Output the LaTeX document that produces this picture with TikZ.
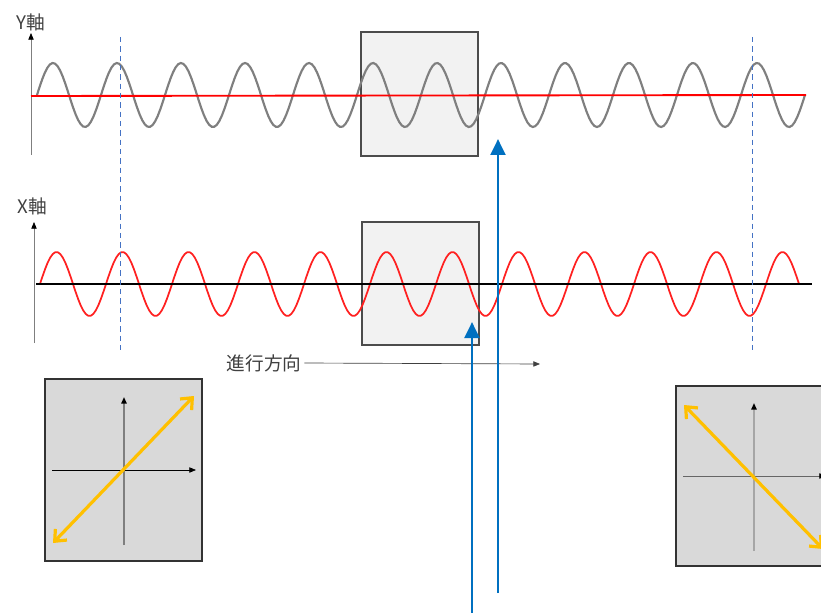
\documentclass[tikz,border=0pt]{standalone}
\usepackage{fontspec}
\setmainfont{Noto Sans CJK JP}
\usetikzlibrary{arrows.meta}

\definecolor{wavegray}{HTML}{7F7F7F}
\definecolor{wavered}{HTML}{FF2020}
\definecolor{beamblue}{HTML}{0070C0}
\definecolor{guideblue}{HTML}{4472C4}
\definecolor{polyellow}{HTML}{FFC000}
\definecolor{labelgray}{HTML}{404040}

\tikzset{
  lab/.style={text=labelgray,font=\fontsize{14}{16}\selectfont,inner sep=2pt},
  zoombox/.style={draw=black!70,fill=black!5,line width=0.9pt},
  planebox/.style={draw=black!80,fill=black!15,line width=0.9pt},
  guide/.style={guideblue,dashed,dash pattern=on 4pt off 3pt,line width=0.7pt},
  beam/.style={beamblue,line width=2.2pt,-{Triangle[length=12pt,width=11pt]}},
  pol/.style={polyellow,line width=2.4pt,{Straight Barb[length=7pt,width=12pt]}-{Straight Barb[length=7pt,width=12pt]}},
  axis/.style={-{Triangle[length=5pt,width=4pt,color=black]}},
}

\begin{document}
\begin{tikzpicture}[x=0.75pt,y=-0.75pt,line width=0.6pt,>={Triangle[length=5pt,width=4pt]}]
  \clip (0,0) rectangle (821,613);

  % Y component
  \node[lab] (ylab) at (31,22) {Y軸};
  \coordinate (yb) at (31,155);
  \coordinate (yt) at (31,33);
  \draw[axis,wavegray] (yb) -- (yt);
  \draw[zoombox] (361,32) rectangle (478,156);
  \draw[wavegray,line width=1.6pt] plot[domain=37:805,samples=300]
    (\x,{95-32*sin((\x-37)/64*360)});
  \coordinate (y0) at (31,96);
  \coordinate (y1) at (806,95);
  \draw[red,line width=1.4pt] (y0) -- (y1);

  % X component
  \node[lab] (xlab) at (32,206) {X軸};
  \coordinate (xb) at (34,343);
  \coordinate (xt) at (34,222);
  \draw[axis,wavegray] (xb) -- (xt);
  \draw[zoombox] (362,222) rectangle (479,345);
  \draw[wavered,line width=1.3pt] plot[domain=40:799,samples=300]
    (\x,{284-32*sin((\x-40)/66*360)});
  \coordinate (x0) at (36,284);
  \coordinate (x1) at (812,284);
  \draw[black,line width=1.3pt] (x0) -- (x1);

  % guides
  \coordinate (ga) at (120,37);
  \coordinate (gb) at (120,353);
  \coordinate (gc) at (752,37);
  \coordinate (gd) at (752,353);
  \draw[guide] (ga) -- (gb);
  \draw[guide] (gc) -- (gd);

  % direction
  \node[lab] (dirlab) at (264,363) {進行方向};
  \coordinate (dirend) at (540,364);
  \draw[->,black!75,line width=0.5pt] (dirlab.east) -- (dirend);

  % observers
  \coordinate (ba) at (472,613);
  \coordinate (bb) at (472,322);
  \coordinate (bc) at (498,593);
  \coordinate (bd) at (498,139);
  \draw[beam] (ba) -- (bb);
  \draw[beam] (bc) -- (bd);

  % left plane
  \draw[planebox] (45,379) rectangle (202,561);
  \coordinate (la) at (124,545);
  \coordinate (lb) at (124,397);
  \coordinate (lc) at (52,470);
  \coordinate (ld) at (196,470);
  \draw[axis,wavegray,line width=1.2pt] (la) -- (lb);
  \draw[->] (lc) -- (ld);
  \coordinate (le) at (53,543);
  \coordinate (lf) at (194,396);
  \draw[pol] (le) -- (lf);

  % right plane
  \draw[planebox] (676,386) rectangle (840,566);
  \coordinate (ra) at (754,551);
  \coordinate (rb) at (754,403);
  \coordinate (rc) at (683,476);
  \coordinate (rd) at (826,476);
  \draw[axis,black!35,line width=1.2pt] (ra) -- (rb);
  \draw[axis,black!60] (rc) -- (rd);
  \coordinate (re) at (684,405);
  \coordinate (rf) at (823,549);
  \draw[pol] (re) -- (rf);
\end{tikzpicture}
\end{document}
